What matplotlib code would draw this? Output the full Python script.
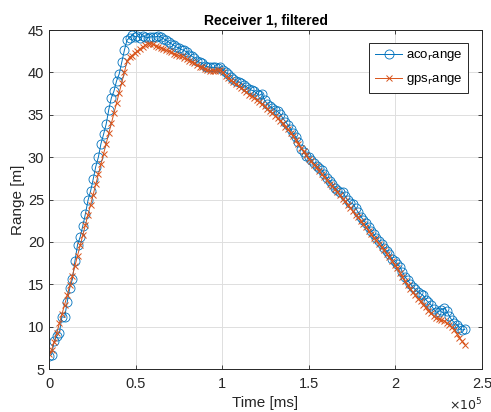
import matplotlib.pyplot as plt
import numpy as np

plt.rcParams['font.family'] = ['Liberation Sans', 'DejaVu Sans']

# time stamps in ms (every 1500 ms)
time_ms = np.arange(0, 240001, 1500)

aco_range = [
    6.6, 6.7, 8.3, 8.9, 9.3, 11.2, 11.1, 12.9, 14.6, 15.6,
    17.8, 19.7, 20.6, 21.9, 23.3, 24.9, 26.0, 27.4, 28.9, 30.0,
    31.6, 32.7, 33.9, 35.6, 37.0, 37.8, 39.0, 39.8, 41.2, 42.6,
    43.8, 44.1, 44.4, 44.2, 44.3, 44.1, 44.3, 44.2, 44.1, 44.2,
    44.2, 44.2, 44.3, 44.2, 44.0, 43.8, 43.6, 43.4, 43.2, 43.0,
    42.9, 42.7, 42.6, 42.4, 42.1, 41.9, 41.7, 41.3, 41.2, 41.1,
    40.8, 40.7, 40.6, 40.6, 40.6, 40.5, 40.6, 40.3, 40.0, 39.8,
    39.5, 39.2, 39.0, 38.9, 38.7, 38.5, 38.3, 38.1, 37.9, 37.8,
    37.5, 37.3, 37.5, 36.7, 36.3, 36.0, 35.8, 35.6, 35.4, 35.1,
    34.6, 34.2, 33.8, 33.3, 32.8, 32.4, 31.8, 31.0, 30.6, 30.2,
    30.0, 29.7, 29.3, 29.0, 28.7, 28.5, 28.0, 27.5, 27.2, 26.9,
    26.4, 26.1, 25.9, 25.9, 25.4, 24.9, 24.6, 24.5, 24.0, 23.5,
    23.0, 22.6, 22.2, 21.8, 21.3, 20.9, 20.5, 20.1, 19.8, 19.3,
    18.9, 18.6, 18.0, 17.7, 17.4, 17.1, 16.5, 15.9, 15.5, 15.1,
    14.7, 14.4, 14.1, 13.9, 13.7, 13.2, 12.9, 12.6, 12.1, 11.7,
    11.8, 12.0, 12.2, 11.9, 11.3, 10.8, 10.5, 10.2, 9.9, 9.6,
    9.7,
]

gps_range = [
    6.8, 7.3, 8.2, 9.3, 10.4, 11.5, 12.6, 13.7, 14.9, 16.0,
    17.2, 18.4, 19.6, 20.8, 22.0, 23.2, 24.4, 25.6, 26.8, 28.0,
    29.2, 30.4, 31.6, 32.8, 34.0, 35.2, 36.4, 37.6, 38.8, 40.0,
    41.3, 41.8, 42.0, 42.3, 42.5, 42.8, 43.0, 43.2, 43.4, 43.4,
    43.3, 43.1, 43.0, 42.9, 42.8, 42.6, 42.5, 42.4, 42.2, 42.1,
    42.0, 41.9, 41.7, 41.6, 41.4, 41.2, 41.1, 40.9, 40.7, 40.6,
    40.4, 40.3, 40.2, 40.2, 40.2, 40.3, 40.3, 40.0, 39.6, 39.4,
    39.1, 38.9, 38.6, 38.4, 38.2, 37.9, 37.7, 37.4, 37.2, 37.0,
    36.8, 36.5, 36.3, 36.0, 35.7, 35.4, 35.2, 34.9, 34.6, 34.3,
    34.0, 33.6, 33.3, 32.9, 32.5, 32.0, 31.6, 31.1, 30.7, 30.3,
    29.8, 29.5, 29.1, 28.8, 28.4, 28.0, 27.7, 27.3, 26.9, 26.6,
    26.2, 25.9, 25.5, 25.1, 24.8, 24.4, 24.0, 23.6, 23.2, 22.9,
    22.5, 22.1, 21.8, 21.3, 20.9, 20.5, 20.2, 19.8, 19.4, 19.0,
    18.6, 18.2, 17.8, 17.3, 16.9, 16.4, 15.9, 15.4, 14.9, 14.5,
    14.1, 13.7, 13.3, 13.0, 12.6, 12.3, 11.9, 11.6, 11.3, 11.0,
    10.9, 10.8, 10.7, 10.5, 10.2, 10.0, 9.6, 9.2, 8.7, 8.3,
    7.9,
]

x_ticks = [0, 50000, 100000, 150000, 200000, 250000]
x_tick_labels = ['0', '0.5', '1', '1.5', '2', '2.5']
y_ticks = [5, 10, 15, 20, 25, 30, 35, 40, 45]

fig = plt.figure(figsize=(4.91, 4.12), dpi=100)
ax = fig.add_axes([0.0998, 0.104, 0.8819, 0.823])

ax.plot(time_ms, aco_range, color='#0072BD', marker='o', markersize=6.5,
        markerfacecolor='none', markeredgewidth=0.6, linewidth=0.7,
        label=r'aco$_\mathrm{r}$ange')
ax.plot(time_ms, gps_range, color='#D95319', marker='x', markersize=5,
        markeredgewidth=0.7, linewidth=0.7, label=r'gps$_\mathrm{r}$ange')

ax.set_xlim(0, 250000)
ax.set_ylim(5, 45)
ax.set_xticks(x_ticks)
ax.set_xticklabels(x_tick_labels)
ax.set_yticks(y_ticks)
ax.grid(True, color='#dedede', linewidth=0.7)
ax.set_axisbelow(True)
ax.tick_params(direction='in', top=True, right=True, labelsize=10.5,
               colors='#262626', length=3, width=0.6)
ax.tick_params(axis='x', pad=6)
for s in ax.spines.values():
    s.set_color('#262626')
    s.set_linewidth(0.7)

ax.set_title('Receiver 1, filtered', fontsize=10, fontweight='bold', pad=4)
ax.set_xlabel('Time [ms]', fontsize=11, color='#262626', labelpad=3)
ax.set_ylabel('Range [m]', fontsize=11, color='#262626', labelpad=2)
ax.text(1.0, -0.08, r'$\times10^5$', transform=ax.transAxes, fontsize=9,
        ha='right', va='top', color='#262626')

leg = ax.legend(loc='upper right', bbox_to_anchor=(0.968, 0.962), fontsize=9.5,
                fancybox=False, framealpha=1, edgecolor='#262626',
                handlelength=2.0, handletextpad=0.3, borderpad=0.45,
                labelspacing=0.75, borderaxespad=0)
leg.get_frame().set_linewidth(0.7)

fig.savefig('out.png', dpi=100)
